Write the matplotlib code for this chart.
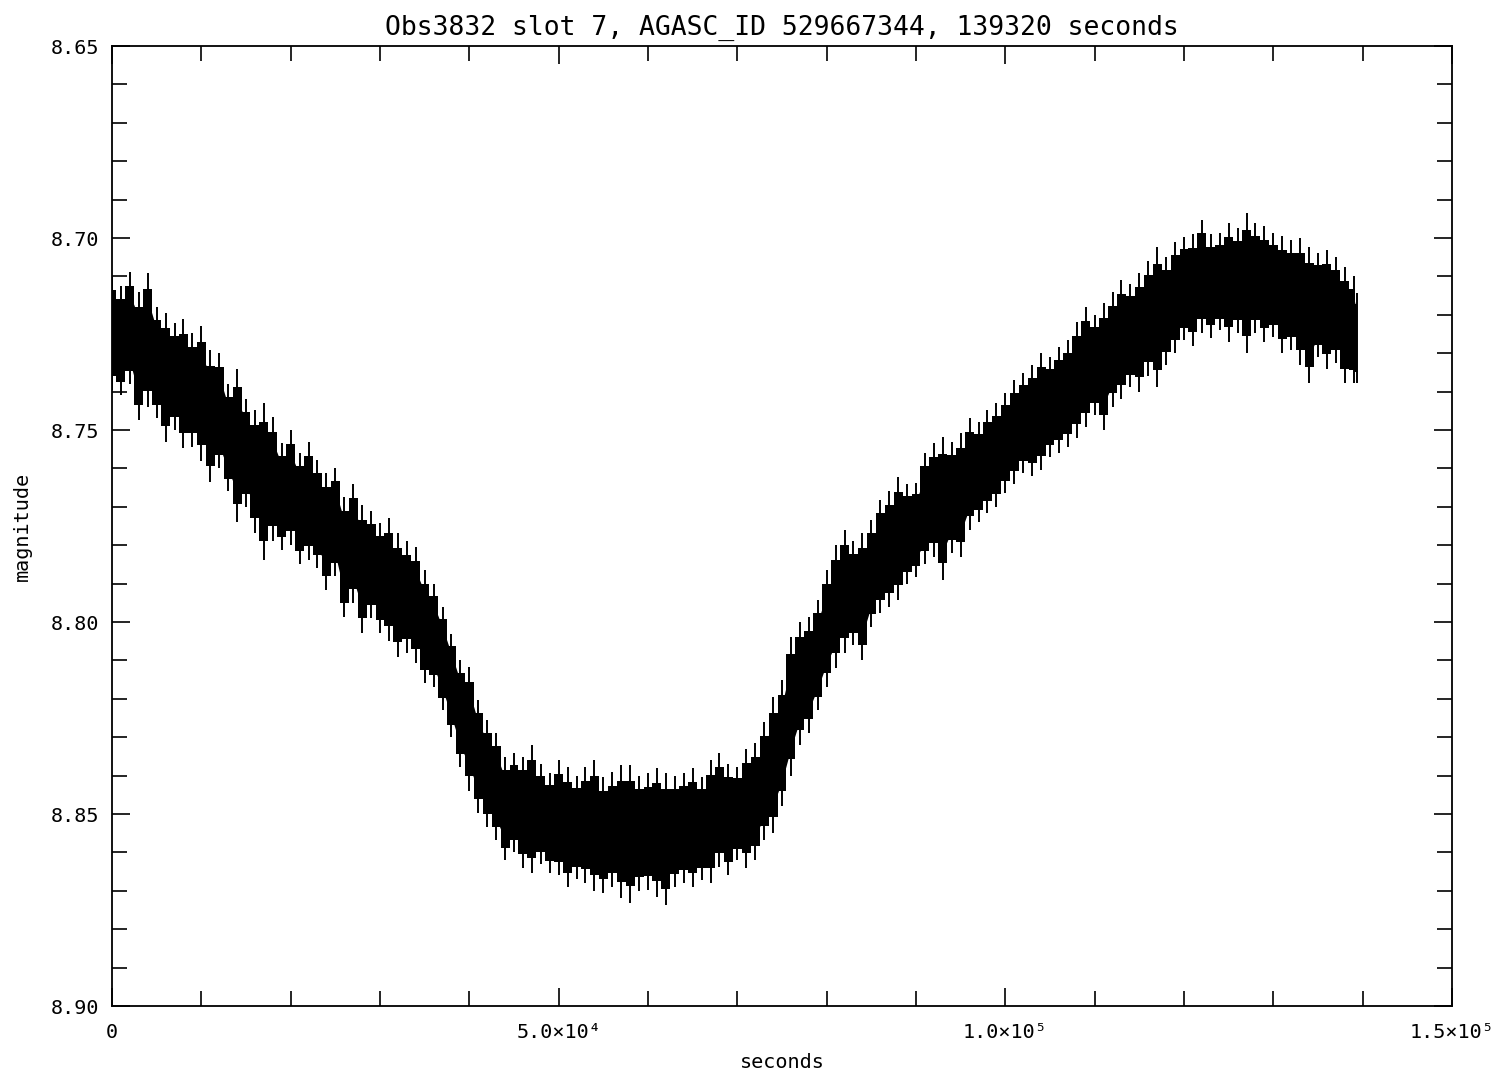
import numpy as np
import matplotlib
matplotlib.use("Agg")
import matplotlib.pyplot as plt
from matplotlib.ticker import MultipleLocator, FixedLocator, FixedFormatter, FormatStrFormatter

# Light curve, binned every 1000 s: brightest (top) and faintest (bottom)
# magnitude seen in each bin.
time_s = np.arange(0, 140000, 1000).tolist() + [139320]

mag_top = [
    8.7100, 8.7125, 8.7089, 8.7140, 8.7091, 8.7180, 8.7195, 8.7221, 8.7210, 8.7247,
    8.7230, 8.7292, 8.7300, 8.7380, 8.7340, 8.7420, 8.7448, 8.7430, 8.7466, 8.7534,
    8.7500, 8.7560, 8.7530, 8.7578, 8.7612, 8.7600, 8.7674, 8.7640, 8.7695, 8.7710,
    8.7742, 8.7730, 8.7768, 8.7790, 8.7805, 8.7865, 8.7900, 8.7961, 8.8030, 8.8099,
    8.8117, 8.8203, 8.8255, 8.8289, 8.8352, 8.8340, 8.8352, 8.8320, 8.8370, 8.8393,
    8.8360, 8.8378, 8.8400, 8.8378, 8.8360, 8.8404, 8.8390, 8.8372, 8.8372, 8.8400,
    8.8393, 8.8380, 8.8393, 8.8400, 8.8393, 8.8380, 8.8404, 8.8360, 8.8341, 8.8370,
    8.8378, 8.8330, 8.8315, 8.8260, 8.8195, 8.8150, 8.8040, 8.8000, 8.7987, 8.7943,
    8.7865, 8.7800, 8.7760, 8.7790, 8.7768, 8.7734, 8.7682, 8.7660, 8.7622, 8.7640,
    8.7638, 8.7560, 8.7534, 8.7518, 8.7530, 8.7508, 8.7470, 8.7480, 8.7448, 8.7430,
    8.7404, 8.7370, 8.7352, 8.7330, 8.7299, 8.7310, 8.7284, 8.7266, 8.7220, 8.7180,
    8.7200, 8.7169, 8.7140, 8.7109, 8.7120, 8.7091, 8.7060, 8.7023, 8.7050, 8.7010,
    8.6997, 8.6990, 8.6953, 8.6990, 8.6987, 8.6961, 8.6975, 8.6935, 8.6961, 8.6970,
    8.6987, 8.6995, 8.7005, 8.7000, 8.7023, 8.7039, 8.7030, 8.7049, 8.7076, 8.7100,
    8.7143,
]

mag_bottom = [
    8.7396, 8.7410, 8.7380, 8.7474, 8.7440, 8.7470, 8.7531, 8.7500, 8.7548, 8.7544,
    8.7580, 8.7635, 8.7600, 8.7660, 8.7740, 8.7700, 8.7768, 8.7839, 8.7790, 8.7813,
    8.7800, 8.7850, 8.7839, 8.7860, 8.7917, 8.7880, 8.7987, 8.7950, 8.8029, 8.7990,
    8.8029, 8.8050, 8.8091, 8.8080, 8.8107, 8.8159, 8.8170, 8.8229, 8.8300, 8.8378,
    8.8440, 8.8497, 8.8534, 8.8568, 8.8620, 8.8600, 8.8640, 8.8654, 8.8630, 8.8654,
    8.8660, 8.8690, 8.8670, 8.8680, 8.8700, 8.8706, 8.8690, 8.8720, 8.8732, 8.8700,
    8.8698, 8.8716, 8.8737, 8.8690, 8.8680, 8.8690, 8.8672, 8.8680, 8.8638, 8.8660,
    8.8620, 8.8640, 8.8620, 8.8568, 8.8549, 8.8480, 8.8400, 8.8320, 8.8289, 8.8229,
    8.8169, 8.8120, 8.8081, 8.8060, 8.8099, 8.8013, 8.7977, 8.7960, 8.7943, 8.7900,
    8.7883, 8.7850, 8.7831, 8.7891, 8.7820, 8.7831, 8.7760, 8.7740, 8.7716, 8.7700,
    8.7664, 8.7640, 8.7612, 8.7620, 8.7604, 8.7570, 8.7560, 8.7544, 8.7520, 8.7492,
    8.7460, 8.7500, 8.7440, 8.7420, 8.7388, 8.7400, 8.7360, 8.7388, 8.7330, 8.7300,
    8.7266, 8.7280, 8.7247, 8.7260, 8.7240, 8.7270, 8.7247, 8.7299, 8.7247, 8.7270,
    8.7258, 8.7300, 8.7292, 8.7330, 8.7378, 8.7310, 8.7340, 8.7326, 8.7378, 8.7378,
    8.7378,
]

x_tick_values = [0, 50000, 100000, 150000]
x_tick_labels = ["0", "5.0×10⁴", "1.0×10⁵", "1.5×10⁵"]
y_tick_values = [8.65, 8.70, 8.75, 8.80, 8.85, 8.90]

title_text = "Obs3832 slot 7, AGASC_ID 529667344, 139320 seconds"

plt.rcParams["font.family"] = ["DejaVu Sans Mono", "DejaVu Sans"]

fig = plt.figure(figsize=(15.06, 10.77), dpi=100)
ax = fig.add_axes([112 / 1506, 1 - 1006 / 1077, (1452 - 112) / 1506, (1006 - 46) / 1077])

t = np.asarray(time_s, dtype=float)
top = np.asarray(mag_top)
bot = np.asarray(mag_bottom)
width = bot - top

# dense core of the noisy trace (stepped per bin), then the excursions as spikes
ax.fill_between(t, top + 0.12 * width, bot - 0.12 * width, step="mid",
                color="black", linewidth=0)
ax.fill_between(t, top + 0.2 * width, bot - 0.2 * width,
                color="black", linewidth=0)
ax.vlines(t, top, bot, color="black", linewidth=1.4)

ax.set_xlim(0, 150000)
ax.set_ylim(8.90, 8.65)

ax.xaxis.set_major_locator(FixedLocator(x_tick_values))
ax.xaxis.set_major_formatter(FixedFormatter(x_tick_labels))
ax.xaxis.set_minor_locator(MultipleLocator(10000))
ax.yaxis.set_major_locator(FixedLocator(y_tick_values))
ax.yaxis.set_major_formatter(FormatStrFormatter("%.2f"))
ax.yaxis.set_minor_locator(MultipleLocator(0.01))

ax.tick_params(which="both", direction="in", top=True, right=True,
               width=1.2, colors="black", labelsize=14.5)
ax.tick_params(which="major", length=13, pad=9)
ax.tick_params(which="minor", length=11)
ax.tick_params(axis="x", which="major", pad=12)

for sp in ax.spines.values():
    sp.set_linewidth(1.3)

ax.set_title(title_text, fontsize=19, pad=8)
ax.set_xlabel("seconds", fontsize=14.5, labelpad=8)
ax.set_ylabel("magnitude", fontsize=14.5, labelpad=14)

fig.savefig("out.png", dpi=100, facecolor="white")
